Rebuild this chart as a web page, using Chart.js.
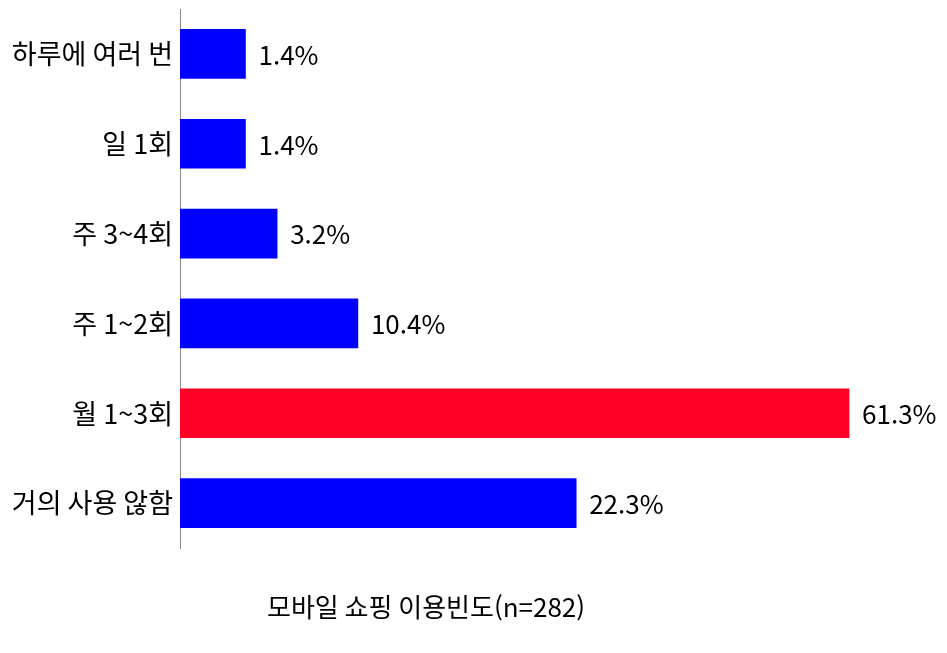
<!DOCTYPE html>
<html lang="ko">
<head>
<meta charset="utf-8">
<script src="https://cdn.jsdelivr.net/npm/chart.js@4"></script>
<style>
  html, body { margin: 0; padding: 0; background: #fff; }
  #wrap { width: 947px; height: 653px; }
</style>
</head>
<body>
<div id="wrap"><canvas id="frecuencia"></canvas></div>
<script>
// categorías (de arriba hacia abajo)
const categorias = ['하루에 여러 번', '일 1회', '주 3~4회', '주 1~2회', '월 1~3회', '거의 사용 않함'];
// porcentajes que muestra la etiqueta
const porcentajes = [1.4, 1.4, 3.2, 10.4, 61.3, 22.3];
// largo de cada barra tal como está dibujada (no es proporcional a la etiqueta)
const largoBarras = [6.0, 6.0, 8.9, 16.3, 61.3, 36.3];
const colores = ['#0000ff', '#0000ff', '#0000ff', '#0000ff', '#ff0026', '#0000ff'];
const tituloEje = '모바일 쇼핑 이용빈도(n=282)';

const fuente = "'Noto Sans CJK KR', 'Noto Sans', sans-serif";

// Etiquetas de valor a la derecha de cada barra
const etiquetasValor = {
    id: 'etiquetasValor',
    afterDatasetsDraw(chart) {
        const ctx = chart.ctx;
        const meta = chart.getDatasetMeta(0);
        ctx.save();
        ctx.font = '26px ' + fuente;
        ctx.fillStyle = '#000';
        ctx.textAlign = 'left';
        ctx.textBaseline = 'middle';
        meta.data.forEach((bar, i) => {
            ctx.fillText(porcentajes[i].toFixed(1) + '%', bar.x + 13, bar.y + 1);
        });
        ctx.restore();
    }
};

// Título inferior
const tituloInferior = {
    id: 'tituloInferior',
    afterDraw(chart) {
        const ctx = chart.ctx;
        ctx.save();
        ctx.font = '26px ' + fuente;
        ctx.fillStyle = '#000';
        ctx.textAlign = 'center';
        ctx.textBaseline = 'middle';
        ctx.fillText(tituloEje, 426, 607);
        ctx.restore();
    }
};

new Chart(document.getElementById('frecuencia'), {
    type: 'bar',
    data: {
        labels: categorias,
        datasets: [{
            data: largoBarras,
            backgroundColor: colores,
            barThickness: 49
        }]
    },
    options: {
        indexAxis: 'y',
        responsive: true,
        maintainAspectRatio: false,
        animation: false,
        layout: { padding: { top: 9, bottom: 105, right: 3, left: 0 } },
        plugins: {
            legend: { display: false },
            tooltip: { enabled: false }
        },
        scales: {
            x: {
                display: false,
                min: 0,
                max: 70
            },
            y: {
                afterFit: (scale) => {
                    scale.width = 180;
                    scale.paddingTop = 0;
                    scale.paddingBottom = 0;
                },
                grid: { display: false, drawTicks: false },
                border: { display: true, color: '#8a8a8a', width: 1 },
                ticks: {
                    color: '#000',
                    padding: 7,
                    font: { family: fuente, size: 27 }
                }
            }
        }
    },
    plugins: [etiquetasValor, tituloInferior]
});
</script>
</body>
</html>
